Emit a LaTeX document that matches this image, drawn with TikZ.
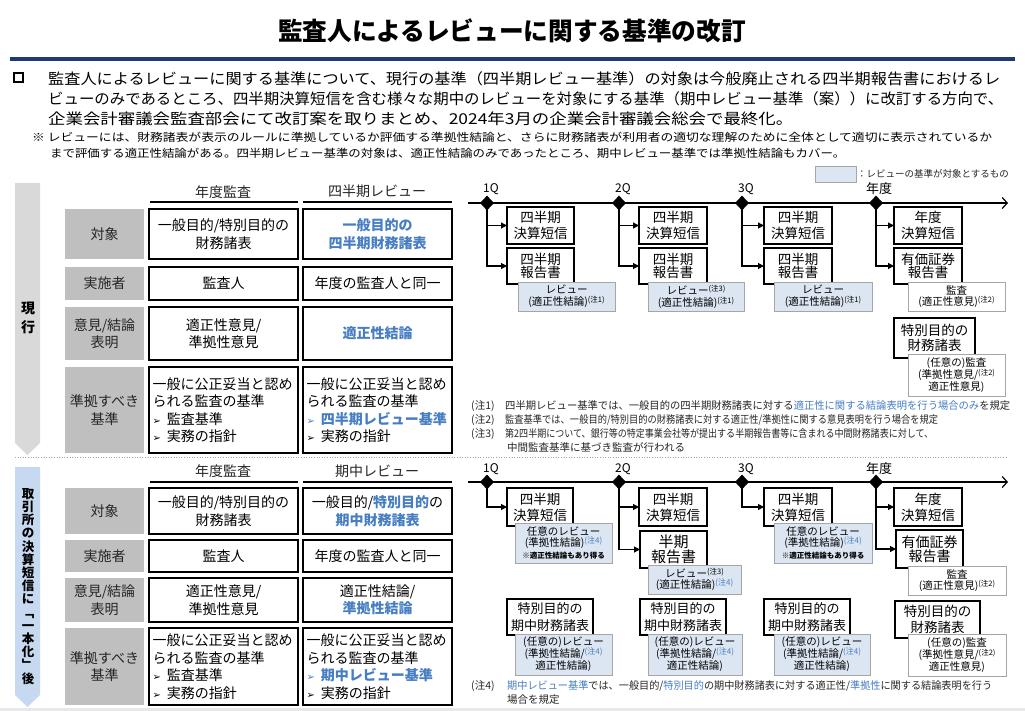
\documentclass[tikz,border=0pt]{standalone}
\usepackage{graphicx}
\usepackage{fontspec}
\setmainfont{Noto Sans CJK JP}
\newfontfamily\dvf{DejaVu Sans}
\usetikzlibrary{arrows.meta,shapes.geometric}
\definecolor{navy}{RGB}{31,58,112}
\definecolor{bl}{RGB}{70,125,195}
\definecolor{lb}{RGB}{220,230,242}
\definecolor{lbarrow}{RGB}{198,217,241}
\definecolor{gr}{RGB}{191,191,191}
\definecolor{garrow}{RGB}{217,217,217}
\definecolor{bord}{RGB}{166,166,166}
\newcommand\fsz[2]{\fontsize{#1pt}{#2pt}\selectfont}
\newcommand\fitw[2]{\resizebox{#1}{\height}{#2}}
\newcommand\chu[1]{\raisebox{3pt}{\fsz{7.5}{7.5}(#1)}}
\newcommand\chub[1]{\raisebox{3pt}{\fsz{8}{8}\color{bl}(#1)}}
\newcommand\arrh{{\dvf\fsz{10}{10}➢}\hspace{6pt}}
\newcommand\mybox[7]{%
  \pgfmathsetmacro\rbw{#5-#3}\pgfmathsetmacro\rbh{#6-#4}%
  \pgfmathsetmacro\rbx{(#3+#5)/2}\pgfmathsetmacro\rby{(#4+#6)/2}%
  \node[#2, minimum width=\rbw pt, minimum height=\rbh pt] (#1) at (\rbx,\rby) {#7};}
\begin{document}
\begin{tikzpicture}[x=1pt,y=-1pt,
  bse/.style={inner sep=0pt, outer sep=0pt, align=center, font=\fsz{13.5}{16}},
  tbox/.style={bse, draw=black, line width=1.3pt, fill=white},
  rbox/.style={tbox, font=\fsz{13.5}{13.5}},
  rev/.style={bse, draw=bord, line width=0.7pt, fill=lb, font=\fsz{10.5}{12}},
  aud/.style={bse, draw=bord, line width=0.7pt, fill=white, font=\fsz{10.5}{11.5}},
  lab/.style={bse, fill=gr, font=\fsz{14}{17.5}, text=black!85},
  cell/.style={bse, draw=black, line width=1.3pt, font=\fsz{14}{17.5}},
  jcell/.style={cell, align=left, text width=142pt, inner xsep=3.5pt},
  hdr/.style={inner sep=0pt, font=\fsz{14}{14}, text=black!85},
  qlab/.style={inner sep=0pt, font=\fsz{12}{12}},
  arr/.style={line width=1.1pt, -{Triangle[length=6pt,width=6pt]}},
  tl/.style={line width=1.2pt, -{Straight Barb[length=5pt,width=11pt,line width=1.2pt]}},
  dia/.style={diamond, fill=black, inner sep=0pt, minimum width=14pt, minimum height=15pt},
  vt/.style={inner sep=0pt, font=\bfseries\fsz{14}{14}},
  vts/.style={inner sep=0pt, font=\bfseries\fsz{12.5}{12.5}, text height=9.5pt, text depth=1pt},
  note/.style={anchor=west, inner sep=0pt, font=\fsz{10.5}{10.5}, text=black!85},
  intro/.style={anchor=west, inner sep=0pt, font=\fsz{15}{15}},
  small/.style={anchor=west, inner sep=0pt, font=\fsz{11}{11}}]
\useasboundingbox (0,0) rectangle (1025,711);
\fill[white] (0,0) rectangle (1025,711);
% title
\node[inner sep=0pt, font=\bfseries\fsz{25}{25}] (title) at (512,31) {\fitw{468pt}{監査人によるレビューに関する基準の改訂}};
\fill[navy] (10,57) rectangle (1015,61.5);
% intro
\node[draw=black, line width=2pt, minimum size=9pt, inner sep=0pt] (bul) at (18,78) {};
\node[intro] (l1) at (48,79) {\fitw{952pt}{監査人によるレビューに関する基準について、現行の基準（四半期レビュー基準）の対象は今般廃止される四半期報告書におけるレ}};
\node[intro] (l2) at (48,99) {\fitw{955pt}{ビューのみであるところ、四半期決算短信を含む様々な期中のレビューを対象にする基準（期中レビュー基準（案））に改訂する方向で、}};
\node[intro] (l3) at (48,119) {\fitw{745pt}{企業会計審議会監査部会にて改訂案を取りまとめ、2024年3月の企業会計審議会総会で最終化。}};
\node[small] (m1) at (32,137) {\fitw{960pt}{※ レビューには、財務諸表が表示のルールに準拠しているか評価する準拠性結論と、さらに財務諸表が利用者の適切な理解のために全体として適切に表示されているか}};
\node[small] (m2) at (50,153) {\fitw{795pt}{まで評価する適正性結論がある。四半期レビュー基準の対象は、適正性結論のみであったところ、期中レビュー基準では準拠性結論もカバー。}};
% legend
\mybox{leg}{rev}{815}{166}{856}{182}{}
\node[anchor=west, inner sep=0pt, font=\fsz{9.5}{9.5}, text=black!85] (legt) at (857,174) {：レビューの基準が対象とするもの};
% left arrows
\fill[garrow] (15,183) -- (40,183) -- (40,443) -- (27.5,455) -- (15,443) -- cycle;
\node[vt] (g1) at (28,308) {現};
\node[vt] (g2) at (28,327) {行};
\fill[lbarrow] (15,467) -- (40,467) -- (40,695) -- (27.5,707) -- (15,695) -- cycle;
\foreach \c [count=\i from 0] in {取,引,所,の,決,算,短,信,に,﹁,一,本,化,﹂,後}
  \node[vts] (v\i) at (28,{494+\i*13.2}) {\c};
% ---------- top table
\node[hdr] (h1) at (223,192) {年度監査};
\node[hdr] (h2) at (377,191) {四半期レビュー};
\draw[line width=2.2pt] (150,202) -- (298,202);
\draw[line width=2.2pt] (303,202) -- (452,202);
\mybox{L1}{lab}{65}{209}{144}{259}{対象}
\mybox{L2}{lab}{65}{267}{144}{300}{実施者}
\mybox{L3}{lab}{65}{307}{144}{360}{意見/結論\\表明}
\mybox{L4}{lab}{65}{367}{144}{453}{準拠すべき\\基準}
\mybox{C11}{cell}{149}{209}{298}{259}{一般目的/特別目的の\\財務諸表}
\mybox{C12}{cell,text=bl,font=\bfseries\fsz{14}{17.5}}{303}{209}{452}{259}{一般目的の\\四半期財務諸表}
\mybox{C21}{cell}{149}{267}{298}{300}{監査人}
\mybox{C22}{cell}{303}{267}{452}{300}{年度の監査人と同一}
\mybox{C31}{cell}{149}{307}{298}{360}{適正性意見/\\準拠性意見}
\mybox{C32}{cell,text=bl,font=\bfseries\fsz{14}{17.5}}{303}{307}{452}{360}{適正性結論}
\mybox{C41}{jcell}{149}{367}{298}{453}{一般に公正妥当と認め\\られる監査の基準\\\arrh 監査基準\\\arrh 実務の指針}
\mybox{C42}{jcell}{303}{367}{452}{453}{一般に公正妥当と認め\\られる監査の基準\\{\color{bl}\bfseries\arrh 四半期レビュー基準}\\\arrh 実務の指針}
% ---------- top timeline
\coordinate (t0) at (468,203);
\coordinate (t1) at (1008,203);
\draw[tl] (t0) -- (t1);
\node[dia] (d1) at (487,203) {};
\node[dia] (d2) at (619,203) {};
\node[dia] (d3) at (742,203) {};
\node[dia] (d4) at (876,203) {};
\node[qlab] (q1) at (491,189) {1Q};
\node[qlab] (q2) at (623,189) {2Q};
\node[qlab] (q3) at (746,189) {3Q};
\node[qlab, font=\fsz{13}{13}] (q4) at (879,189) {年度};
\mybox{a1}{tbox}{507}{207}{574}{244}{四半期\\決算短信}
\mybox{b1}{rbox}{507}{248}{574}{284}{四半期\\報告書}
\mybox{r1}{rev}{518}{282}{615}{311}{レビュー\\(適正性結論)\chu{注1}}
\mybox{a2}{tbox}{639}{207}{707}{244}{四半期\\決算短信}
\mybox{b2}{rbox}{639}{248}{707}{284}{四半期\\報告書}
\mybox{r2}{rev}{648}{282}{744}{311}{レビュー\chu{注3}\\(適正性結論)\chu{注1}}
\mybox{a3}{tbox}{764}{207}{832}{244}{四半期\\決算短信}
\mybox{b3}{rbox}{764}{248}{832}{284}{四半期\\報告書}
\mybox{r3}{rev}{774}{282}{872}{311}{レビュー\\(適正性結論)\chu{注1}}
\mybox{a4}{tbox}{894}{207}{962}{244}{年度\\決算短信}
\mybox{b4}{rbox}{894}{248}{962}{284}{有価証券\\報告書}
\mybox{r4}{aud}{908}{282}{1005}{311}{監査\\(適正性意見)\chu{注2}}
\mybox{s4}{tbox,font=\fsz{13.5}{15.5}}{894}{318}{975}{358}{特別目的の\\財務諸表}
\mybox{rs4}{aud,font=\fsz{10.5}{11.2}}{908}{354}{1005}{396}{(任意の)監査\\(準拠性意見/\chu{注2}\\適正性意見)}
\draw[arr] (d1.center) |- (a1.west);
\draw[arr] (d1.center) |- (b1.west);
\draw[arr] (d2.center) |- (a2.west);
\draw[arr] (d2.center) |- (b2.west);
\draw[arr] (d3.center) |- (a3.west);
\draw[arr] (d3.center) |- (b3.west);
\draw[arr] (d4.center) |- (a4.west);
\draw[arr] (d4.center) |- (b4.west);
% top notes
\node[note] (n1l) at (471,406) {(注1)};
\node[note] (n1) at (505,406) {\fitw{505pt}{四半期レビュー基準では、一般目的の四半期財務諸表に対する{\color{bl}適正性に関する結論表明を行う場合のみ}を規定}};
\node[note] (n2l) at (471,420) {(注2)};
\node[note] (n2) at (505,420) {\fitw{433pt}{監査基準では、一般目的/特別目的の財務諸表に対する適正性/準拠性に関する意見表明を行う場合を規定}};
\node[note] (n3l) at (471,434) {(注3)};
\node[note] (n3) at (505,434) {\fitw{428pt}{第2四半期について、銀行等の特定事業会社等が提出する半期報告書等に含まれる中間財務諸表に対して、}};
\node[note] (n3b) at (507,447) {中間監査基準に基づき監査が行われる};
% separator
\draw[gray!70, line width=0.6pt, dotted] (15,457) -- (1008,457);
% ---------- bottom table
\node[hdr] (h3) at (223,471) {年度監査};
\node[hdr] (h4) at (377,471) {期中レビュー};
\draw[line width=2.2pt] (150,482) -- (298,482);
\draw[line width=2.2pt] (303,482) -- (452,482);
\mybox{M1}{lab}{65}{488}{144}{534}{対象}
\mybox{M2}{lab}{65}{540}{144}{572}{実施者}
\mybox{M3}{lab}{65}{578}{144}{622}{意見/結論\\表明}
\mybox{M4}{lab}{65}{628}{144}{705}{準拠すべき\\基準}
\mybox{D11}{cell}{149}{488}{298}{534}{一般目的/特別目的の\\財務諸表}
\mybox{D12}{cell}{303}{488}{452}{534}{一般目的/{\color{bl}\bfseries 特別目的}の\\{\color{bl}\bfseries 期中財務諸表}}
\mybox{D21}{cell}{149}{540}{298}{572}{監査人}
\mybox{D22}{cell}{303}{540}{452}{572}{年度の監査人と同一}
\mybox{D31}{cell}{149}{578}{298}{622}{適正性意見/\\準拠性意見}
\mybox{D32}{cell}{303}{578}{452}{622}{適正性結論/\\{\color{bl}\bfseries 準拠性結論}}
\mybox{D41}{jcell}{149}{628}{298}{705}{一般に公正妥当と認め\\られる監査の基準\\\arrh 監査基準\\\arrh 実務の指針}
\mybox{D42}{jcell}{303}{628}{452}{705}{一般に公正妥当と認め\\られる監査の基準\\{\color{bl}\bfseries\arrh 期中レビュー基準}\\\arrh 実務の指針}
% ---------- bottom timeline
\coordinate (t2) at (468,482);
\coordinate (t3) at (1008,482);
\draw[tl] (t2) -- (t3);
\node[dia] (e1) at (487,482) {};
\node[dia] (e2) at (619,482) {};
\node[dia] (e3) at (742,482) {};
\node[dia] (e4) at (876,482) {};
\node[qlab] (p1l) at (491,469) {1Q};
\node[qlab] (p2l) at (623,469) {2Q};
\node[qlab] (p3l) at (746,469) {3Q};
\node[qlab, font=\fsz{13}{13}] (p4l) at (879,469) {年度};
\mybox{c1}{tbox}{507}{488}{573}{526}{四半期\\決算短信}
\mybox{rv1}{rev,font=\fsz{10.5}{11}}{515}{523}{612}{563}{任意のレビュー\\(準拠性結論)\chub{注4}\\[1pt]{\bfseries\fsz{7.5}{8}※適正性結論もあり得る}}
\mybox{c2}{tbox}{639}{488}{707}{526}{四半期\\決算短信}
\mybox{h2b}{tbox,font=\fsz{15}{13.5}}{640}{531}{707}{568}{半期\\報告書}
\mybox{rv2}{rev,font=\fsz{10.5}{11.5}}{648}{565}{741}{594}{レビュー\chu{注3}\\(適正性結論)\chub{注4}}
\mybox{c3}{tbox}{764}{488}{832}{526}{四半期\\決算短信}
\mybox{rv3}{rev,font=\fsz{10.5}{11}}{774}{523}{872}{563}{任意のレビュー\\(準拠性結論)\chub{注4}\\[1pt]{\bfseries\fsz{7.5}{8}※適正性結論もあり得る}}
\mybox{c4}{tbox}{894}{488}{962}{526}{年度\\決算短信}
\mybox{h4b}{tbox,font=\fsz{14}{13.5}}{896}{530}{963}{568}{有価証券\\報告書}
\mybox{rv4}{aud}{908}{566}{1006}{595}{監査\\(適正性意見)\chu{注2}}
\mybox{p1}{tbox,font=\fsz{13}{16.5}}{507}{599}{593}{635}{特別目的の\\期中財務諸表}
\mybox{pr1}{rev,font=\fsz{10.5}{12}}{515}{634}{612}{675}{(任意の)レビュー\\(準拠性結論/\chub{注4}\\適正性結論)}
\mybox{p2}{tbox,font=\fsz{13}{16.5}}{640}{599}{726}{635}{特別目的の\\期中財務諸表}
\mybox{pr2}{rev,font=\fsz{10.5}{12}}{648}{634}{742}{675}{(任意の)レビュー\\(準拠性結論/\chub{注4}\\適正性結論)}
\mybox{p3}{tbox,font=\fsz{13}{16.5}}{764}{599}{850}{635}{特別目的の\\期中財務諸表}
\mybox{pr3}{rev,font=\fsz{10.5}{12}}{774}{634}{870}{675}{(任意の)レビュー\\(準拠性結論/\chub{注4}\\適正性結論)}
\mybox{p4}{tbox,font=\fsz{13.5}{16}}{895}{601}{980}{638}{特別目的の\\財務諸表}
\mybox{pr4}{aud,font=\fsz{10.5}{12}}{908}{634}{1006}{676}{(任意の)監査\\(準拠性意見/\chu{注2}\\適正性意見)}
\draw[arr] (e1.center) |- (c1.west);
\draw[arr] (e2.center) |- (c2.west);
\draw[arr] (e2.center) |- (h2b.west);
\draw[arr] (e3.center) |- (c3.west);
\draw[arr] (e4.center) |- (c4.west);
\draw[arr] (e4.center) |- (h4b.west);
% bottom notes
\node[note] (n4l) at (471,686) {(注4)};
\node[note] (n4) at (507,686) {\fitw{485pt}{{\color{bl}期中レビュー基準}では、一般目的/{\color{bl}特別目的}の期中財務諸表に対する適正性/{\color{bl}準拠性}に関する結論表明を行う}};
\node[note] (n4b) at (507,700) {場合を規定};
\fill[gray!18] (0,707.5) rectangle (1025,711);
\end{tikzpicture}
\end{document}
